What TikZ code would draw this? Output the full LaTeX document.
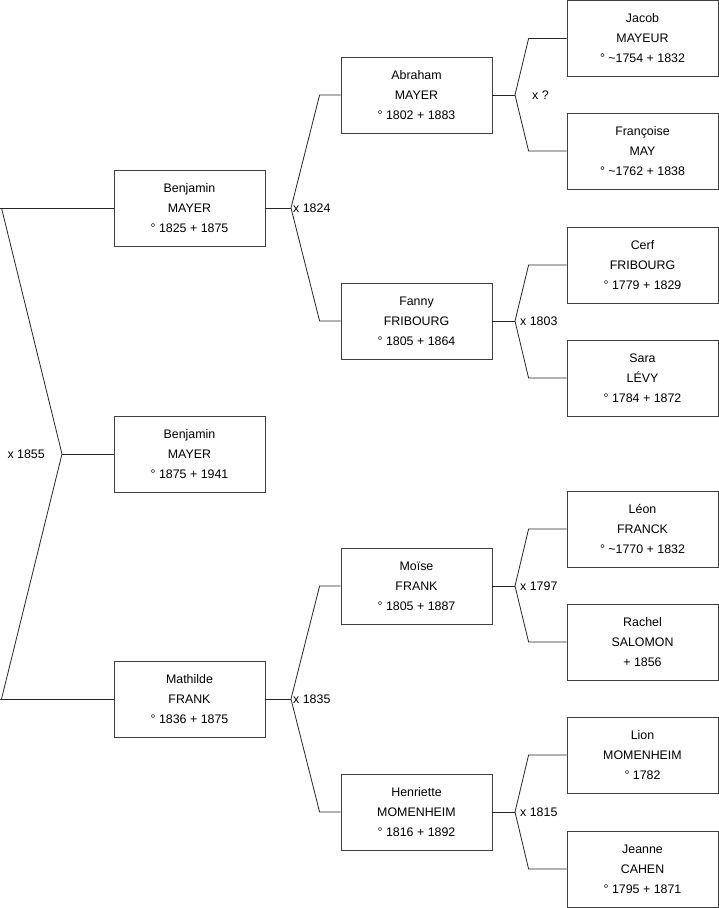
\documentclass[tikz,border=0pt]{standalone}
\usepackage{fontspec}
\setmainfont{Liberation Sans}
\begin{document}
\begin{tikzpicture}[x=1pt, y=-1pt,
			person/.style={draw=black!75, line width=0.8pt, minimum width=151pt, minimum height=76pt, align=center, inner sep=0pt, font=\fontsize{12.4}{20}\selectfont},
			link/.style={draw=black!85, line width=0.8pt},   %Verbindungslinien
			wed/.style={font=\fontsize{12.4}{14}\selectfont, inner sep=1pt}]
			\useasboundingbox (0,0) rectangle (719,908);
			% Personen
			\node[person] (root) at (189.5,454) {Benjamin\\MAYER\\° 1875 + 1941};
			\node[person] (ben) at (189.5,208) {Benjamin\\MAYER\\° 1825 + 1875};
			\node[person] (mat) at (189.5,699) {Mathilde\\FRANK\\° 1836 + 1875};
			\node[person] (abr) at (416.5,95) {Abraham\\MAYER\\° 1802 + 1883};
			\node[person] (fan) at (416.5,321) {Fanny\\FRIBOURG\\° 1805 + 1864};
			\node[person] (moi) at (416.5,586) {Moïse\\FRANK\\° 1805 + 1887};
			\node[person] (hen) at (416.5,812) {Henriette\\MOMENHEIM\\° 1816 + 1892};
			\node[person] (jac) at (642.5,38.5) {Jacob\\MAYEUR\\° \textasciitilde1754 + 1832};
			\node[person] (fra) at (642.5,151) {Françoise\\MAY\\° \textasciitilde1762 + 1838};
			\node[person] (cer) at (642.5,265) {Cerf\\FRIBOURG\\° 1779 + 1829};
			\node[person] (sar) at (642.5,378) {Sara\\LÉVY\\° 1784 + 1872};
			\node[person] (leo) at (642.5,529) {Léon\\FRANCK\\° \textasciitilde1770 + 1832};
			\node[person] (rac) at (642.5,642) {Rachel\\SALOMON\\+ 1856};
			\node[person] (lio) at (642.5,755) {Lion\\MOMENHEIM\\° 1782};
			\node[person] (jea) at (642.5,869) {Jeanne\\CAHEN\\° 1795 + 1871};
			% Verzweigungen
			\coordinate (jroot) at (62,454);
			\coordinate (jben) at (291,208);
			\coordinate (jmat) at (291,699);
			\coordinate (jabr) at (515,95);
			\coordinate (jfan) at (515,321);
			\coordinate (jmoi) at (515,586);
			\coordinate (jhen) at (515,812);
			\coordinate (cben) at (1.5,208);
			\coordinate (cmat) at (1.5,699);
			\coordinate (lben) at (0,208);
			\coordinate (lmat) at (0,699);
			\draw[link] (root.west) -- (jroot);
			\draw[link] (ben.west) -- (lben);
			\draw[link] (mat.west) -- (lmat);
			\draw[link] (cben) -- (jroot) -- (cmat);
			\foreach \c/\f/\m/\d in {ben/abr/fan/21, mat/moi/hen/21, abr/jac/fra/38, fan/cer/sar/38, moi/leo/rac/38, hen/lio/jea/38}
			{
				\draw[link] (\c.east) -- (j\c);
				\draw[link] (\f.west) -- ([xshift=-\d pt]\f.west) -- (j\c) -- ([xshift=-\d pt]\m.west) -- (\m.west);
			}
			% Hochzeiten
			\node[wed, anchor=east] (wroot) at ([xshift=-16pt]jroot) {x 1855};
			\node[wed, anchor=west] (wben) at ([xshift=1pt]jben) {x 1824};
			\node[wed, anchor=west] (wmat) at ([xshift=1pt]jmat) {x 1835};
			\node[wed, anchor=west] (wabr) at ([xshift=16pt]jabr) {x ?};
			\node[wed, anchor=west] (wfan) at ([xshift=4pt]jfan) {x 1803};
			\node[wed, anchor=west] (wmoi) at ([xshift=4pt]jmoi) {x 1797};
			\node[wed, anchor=west] (when) at ([xshift=4pt]jhen) {x 1815};
		\end{tikzpicture}
\end{document}
